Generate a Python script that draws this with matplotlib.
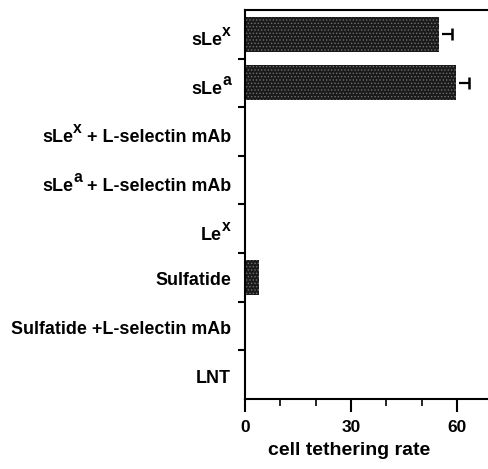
import numpy as np
import matplotlib
matplotlib.use("Agg")
import matplotlib.pyplot as plt
from matplotlib import transforms

plt.rcParams['font.family'] = ['Liberation Sans', 'DejaVu Sans']
plt.rcParams['font.weight'] = 'bold'
plt.rcParams['hatch.linewidth'] = 0.6

# data; each label is (main text, superscript, rest)
names = ['sLe', 'sLe', 'sLe', 'sLe', 'Le', 'Sulfatide', 'Sulfatide +L-selectin mAb', 'LNT']
sups = ['x', 'a', 'x', 'a', 'x', '', '', '']
tails = ['', '', ' + L-selectin mAb', ' + L-selectin mAb', '', '', '', '']
rates = [54.8, 59.8, 0, 0, 0, 4.0, 0, 0]
errs = [3.7, 3.7, 0, 0, 0, 0, 0, 0]
xticks = [0, 30, 60]

fig = plt.figure(figsize=(4.89, 4.69), dpi=100)
ax = fig.add_axes([245/489, 1 - 399/469, 1 - 245/489, (399 - 10)/469])

ypos = np.arange(len(names))
ax.barh(ypos, rates, height=0.72, color='#1a1a1a', edgecolor='#707070',
        linewidth=0, hatch='.....')
# one-sided error bars, upper side only
for y, v, e in zip(ypos, rates, errs):
    if e > 0:
        ax.hlines(y, v + 0.9, v + e, color='black', linewidth=1.6)
        ax.plot([v + e], [y], marker='|', markersize=8, markeredgewidth=1.8, color='black')

ax.set_ylim(len(names) - 0.5, -0.5)
ax.set_xlim(0, 69.1)

ax.set_yticks(ypos)
ax.set_yticklabels([''] * len(names))
ax.set_yticks(ypos[:-1] + 0.5, minor=True)
ax.tick_params(axis='y', which='major', length=0)
ax.tick_params(axis='y', which='minor', length=5, width=1.5, direction='out')

ax.set_xticks(xticks)
ax.set_xticklabels([str(t) for t in xticks], fontsize=12.5)
ax.set_xticks([10, 20, 40, 50], minor=True)
ax.tick_params(axis='x', which='major', length=9, width=1.5, direction='out', pad=6)
ax.tick_params(axis='x', which='minor', length=5, width=1.2, direction='out')

for s in ['left', 'bottom', 'top']:
    ax.spines[s].set_linewidth(1.5)
ax.spines['right'].set_visible(False)

# category labels drawn right to left so the superscripts stay near full size
renderer = fig.canvas.get_renderer()
base = transforms.blended_transform_factory(ax.transAxes, ax.transData)
fs = 12.9
for y, n, s, t in zip(ypos, names, sups, tails):
    off = -14
    drop = 6.4 + (4.5 if s else 1.5)   # baseline below the row centre, px
    parts = [(t, 0, fs), (s, 9, fs * 0.88), (n, 0, fs)]
    for txt, rise, size in parts:
        if not txt:
            continue
        tr = base + transforms.ScaledTranslation(off / 100, (rise - drop) / 100,
                                                 fig.dpi_scale_trans)
        tt = ax.text(0, y, txt, transform=tr, fontsize=size, fontweight='bold',
                     ha='right', va='baseline')
        off -= tt.get_window_extent(renderer).width

fig.text(349/489, 1 - 455/469, 'cell tethering rate', fontsize=14,
         fontweight='bold', ha='center', va='baseline')

fig.savefig('out.png', dpi=100)
